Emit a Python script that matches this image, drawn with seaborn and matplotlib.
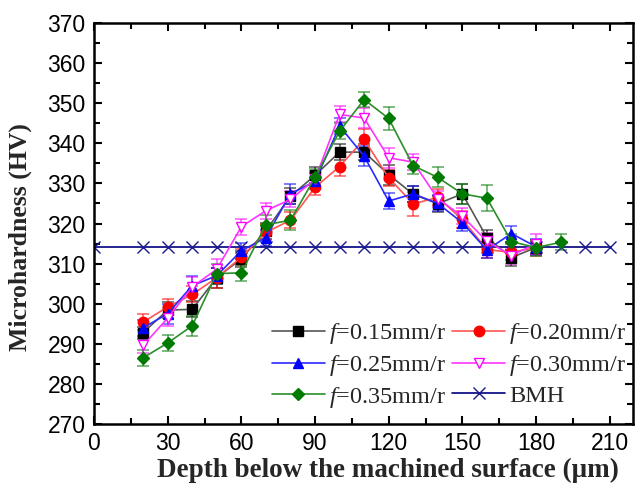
import numpy as np
import pandas as pd
import matplotlib
matplotlib.use("Agg")
import matplotlib.pyplot as plt
import seaborn as sns
from matplotlib.ticker import MultipleLocator

# ---------------- data ----------------
depth = [20, 30, 40, 50, 60, 70, 80, 90, 100, 110, 120, 130, 140, 150, 160, 170, 180]
depth_035 = [20, 30, 40, 50, 60, 70, 80, 90, 100, 110, 120, 130, 140, 150, 160, 170, 180, 190]
depth_bmh = [0, 20, 30, 40, 50, 60, 70, 80, 90, 100, 110, 120, 130, 140, 150, 160, 170, 180, 190, 200, 210]

hv_015 = [292.8, 298.4, 298.6, 306.5, 311.2, 318.2, 326.8, 332.0, 337.8, 337.8, 332.2, 327.3, 324.9, 327.4, 316.5, 311.5, 314.0]
hv_020 = [295.4, 299.2, 302.3, 306.5, 311.6, 317.8, 320.8, 329.0, 334.2, 341.0, 331.4, 324.9, 326.5, 321.0, 313.5, 312.8, 314.0]
hv_025 = [294.0, 297.5, 304.5, 307.0, 313.2, 316.5, 327.4, 330.5, 344.3, 336.8, 325.6, 327.4, 325.0, 320.2, 313.4, 317.5, 314.2]
hv_030 = [289.6, 296.4, 304.2, 308.6, 319.2, 323.2, 326.0, 331.0, 347.2, 346.3, 336.4, 335.3, 326.2, 321.8, 315.6, 312.0, 315.0]
hv_035 = [286.5, 290.2, 294.5, 307.5, 307.7, 319.7, 320.8, 331.5, 343.0, 350.9, 346.2, 334.4, 331.5, 327.4, 326.3, 315.5, 314.0, 315.3]
hv_bmh = [314.1] * len(depth_bmh)

err_015 = [1.5, 2.0, 2.0, 2.5, 2.0, 2.0, 2.0, 2.0, 2.0, 2.0, 2.5, 2.0, 2.0, 2.5, 2.0, 2.0, 1.5]
err_020 = [2.0, 2.0, 2.0, 2.5, 2.0, 2.0, 2.0, 2.0, 2.3, 2.5, 2.0, 3.0, 2.0, 2.0, 2.0, 2.0, 2.0]
err_025 = [2.0, 2.5, 2.5, 2.0, 2.0, 2.0, 2.5, 2.0, 2.0, 2.5, 2.0, 2.0, 2.0, 2.0, 2.0, 2.0, 2.0]
err_030 = [2.0, 2.0, 2.5, 2.5, 2.0, 2.0, 2.0, 2.0, 2.0, 2.5, 2.5, 2.0, 2.0, 2.0, 2.0, 2.0, 2.5]
err_035 = [2.0, 2.0, 2.5, 2.5, 2.0, 2.5, 2.5, 2.0, 2.0, 1.8, 2.8, 2.0, 2.5, 2.5, 3.3, 2.0, 2.0, 2.0]

labels = ["$f$=0.15mm/r", "$f$=0.20mm/r", "$f$=0.25mm/r", "$f$=0.30mm/r", "$f$=0.35mm/r", "BMH"]

# ---------------- style ----------------
sns.set_theme(style="ticks")
plt.rcParams["font.family"] = ["Liberation Sans", "DejaVu Sans"]
plt.rcParams["mathtext.fontset"] = "custom"
plt.rcParams["mathtext.rm"] = "Liberation Serif"
plt.rcParams["mathtext.it"] = "Liberation Serif:italic"
plt.rcParams["mathtext.bf"] = "Liberation Serif:bold"

fig = plt.figure(figsize=(6.38, 4.91), dpi=100)
ax = fig.add_axes([94 / 638, 1 - 424 / 491, (633 - 94) / 638, (424 - 23) / 491])

series = [
    (depth, hv_015, err_015, "#000000", "#555555", "s", 6.5),
    (depth, hv_020, err_020, "#ff0000", "#ff5555", "o", 7.5),
    (depth, hv_025, err_025, "#0000ff", "#2a2aff", "^", 7.5),
    (depth, hv_030, err_030, "#ff00ff", "#ff33ff", "v", 7.5),
    (depth_035, hv_035, err_035, "#007a00", "#2a8f2a", "D", 6.5),
]

for i, (x, y, e, c, lc, m, ms) in enumerate(series):
    ax.errorbar(x, y, yerr=e, fmt="none", ecolor=c, alpha=0.55, elinewidth=1.3,
                capsize=4.5, capthick=1.3, zorder=2)
    mfc = "white" if m == "v" else c
    sns.lineplot(x=x, y=y, ax=ax, color=lc, lw=1.2, marker=m, markersize=ms,
                 markerfacecolor=mfc, markeredgecolor=c, markeredgewidth=1.0,
                 label=labels[i], zorder=3, errorbar=None, sort=False)

sns.lineplot(x=depth_bmh, y=hv_bmh, ax=ax, color="#000080", lw=1.2, marker="x",
             markersize=8, markeredgewidth=1.0, markeredgecolor="#1a1a8c",
             label=labels[5], zorder=2.5, errorbar=None, sort=False)

ax.set_xlim(0, 219.5)
ax.set_ylim(270, 370)
ax.xaxis.set_major_locator(MultipleLocator(30))
ax.xaxis.set_minor_locator(MultipleLocator(15))
ax.yaxis.set_major_locator(MultipleLocator(10))
ax.yaxis.set_minor_locator(MultipleLocator(5))
ax.tick_params(which="both", direction="in", top=True, right=True, colors="black",
               labelsize=16.5, width=1.5, pad=6)
ax.tick_params(which="major", length=6)
ax.tick_params(which="minor", length=4)
ax.tick_params(axis="both", which="both", labeltop=False, labelright=False)
for sp in ax.spines.values():
    sp.set_linewidth(1.8)
    sp.set_color("black")
    sp.set_visible(True)
ax.grid(False)

ax.set_xlabel("Depth below the machined surface (μm)", fontfamily="Liberation Serif",
              fontweight="bold", fontsize=19.5)
ax.set_ylabel("Microhardness (HV)", fontfamily="Liberation Serif",
              fontweight="bold", fontsize=18.5)
ax.xaxis.set_label_coords(0.545, -0.084)
ax.yaxis.set_label_coords(-0.115, 0.465)

h, l = ax.get_legend_handles_labels()
order = [0, 2, 4, 1, 3, 5]
leg = ax.legend([h[k] for k in order], [l[k] for k in order], ncol=2, frameon=False,
                loc="lower right", bbox_to_anchor=(0.987, 0.035), borderaxespad=0,
                borderpad=0, handlelength=2.2, handletextpad=0.15, columnspacing=0.25,
                labelspacing=0.28, prop={"family": "Liberation Serif", "size": 17.5})

fig.savefig("out.png", dpi=100)
